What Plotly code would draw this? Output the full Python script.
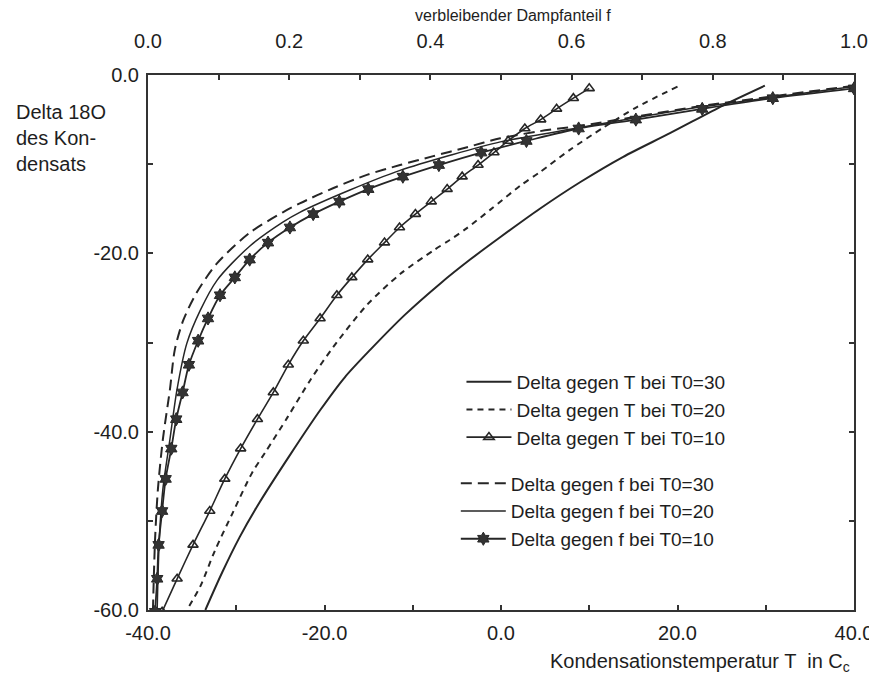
import plotly.graph_objects as go

# ---------------- data ----------------
# Delta gegen T bei T0=30  (bottom axis: T in deg C)
t30_T = [29.9, 25.2, 19.2, 13.8, 9.0, 4.4, -0.1, -3.5, -6.9, -10.9, -14.8, -17.7,
         -20.5, -23.9, -27.4, -29.6, -31.6, -33.5]
t30_d = [-1.2, -3.4, -6.5, -9.2, -12.0, -15.0, -18.2, -20.7, -23.4, -26.9, -30.8, -33.9,
         -37.6, -42.6, -48.0, -51.8, -55.8, -60.0]

# Delta gegen T bei T0=20
t20_T = [20.0, 15.4, 11.6, 7.8, 4.4, 2.2, -1.2, -3.9, -5.8, -7.7, -11.4, -15.2,
         -19.0, -21.6, -24.2, -26.7, -28.2, -30.4, -32.4, -34.1, -35.6]
t20_d = [-1.3, -3.6, -5.9, -8.4, -10.9, -12.4, -15.1, -17.2, -18.5, -19.7, -22.3, -25.8,
         -30.5, -34.2, -38.4, -42.3, -44.6, -49.1, -53.3, -57.4, -60.0]

# T0=10: same condensate delta plotted against T and against f
d10 = [-1.5, -2.6, -3.8, -5.0, -6.0, -7.4, -8.7, -10.1, -11.4, -12.8, -14.2, -15.6,
       -17.1, -18.8, -20.7, -22.7, -24.7, -27.3, -29.8, -32.5, -35.6, -38.6, -41.9,
       -45.3, -48.9, -52.7, -56.5, -60.2]
t10_T = [10.0, 8.2, 6.3, 4.5, 2.7, 0.8, -0.8, -2.6, -4.4, -6.1, -7.9, -9.7, -11.5,
         -13.2, -15.1, -16.9, -18.6, -20.5, -22.4, -24.1, -25.8, -27.6, -29.5, -31.3,
         -33.0, -34.9, -36.7, -38.4]
f10_f = [1.000, 0.885, 0.785, 0.691, 0.610, 0.536, 0.472, 0.412, 0.361, 0.312, 0.271,
         0.234, 0.201, 0.170, 0.144, 0.123, 0.102, 0.085, 0.071, 0.058, 0.049, 0.040,
         0.033, 0.025, 0.020, 0.015, 0.013, 0.010]

# Delta gegen f bei T0=30  (top axis: f)
f30_f = [1.0, 0.885, 0.782, 0.697, 0.612, 0.555, 0.499, 0.452, 0.404, 0.357, 0.310,
         0.262, 0.215, 0.191, 0.144, 0.098, 0.069, 0.050, 0.038, 0.031, 0.021, 0.014,
         0.010, 0.007]
f30_d = [-1.2, -2.4, -3.5, -4.6, -5.7, -6.3, -7.1, -8.1, -9.1, -10.1, -11.2, -12.7,
         -14.4, -15.4, -17.7, -21.1, -24.4, -27.5, -30.8, -35.3, -40.9, -46.5, -52.1,
         -60.0]

# Delta gegen f bei T0=20
f20_f = [1.0, 0.885, 0.782, 0.697, 0.612, 0.499, 0.428, 0.357, 0.286, 0.215, 0.191,
         0.144, 0.098, 0.074, 0.055, 0.041, 0.031, 0.021, 0.016, 0.013]
f20_d = [-1.3, -2.5, -3.6, -4.7, -5.9, -7.5, -9.0, -10.7, -12.9, -15.4, -16.5, -19.2,
         -23.0, -26.4, -30.1, -35.3, -40.9, -46.5, -52.1, -60.0]

# axis ticks
x_ticks = [-40, -20, 0, 20, 40]
x_tick_labels = ["-40.0", "-20.0", "0.0", "20.0", "40.0"]
f_ticks = [0.0, 0.2, 0.4, 0.6, 0.8, 1.0]
f_tick_labels = ["0.0", "0.2", "0.4", "0.6", "0.8", "1.0"]
y_ticks = [0, -20, -40, -60]
y_tick_labels = ["0.0", "-20.0", "-40.0", "-60.0"]

names = ["Delta gegen T bei T0=30", "Delta gegen T bei T0=20", "Delta gegen T bei T0=10",
         "Delta gegen f bei T0=30", "Delta gegen f bei T0=20", "Delta gegen f bei T0=10"]

# ---------------- figure ----------------
INK = "#262626"
TXT = "#1e1e1e"
FONT = "Liberation Sans, Arial, sans-serif"
SM = 0.8  # spline smoothing

fig = go.Figure()
fig.add_trace(go.Scatter(x=t30_T, y=t30_d, mode="lines", name=names[0], legend="legend",
                         line=dict(color=INK, width=2, shape="spline", smoothing=SM)))
fig.add_trace(go.Scatter(x=t20_T, y=t20_d, mode="lines", name=names[1], legend="legend",
                         line=dict(color=INK, width=2, dash="6px,5px", shape="spline",
                                   smoothing=SM)))
fig.add_trace(go.Scatter(x=t10_T, y=d10, mode="lines+markers", name=names[2], legend="legend",
                         line=dict(color=INK, width=1.6, shape="spline", smoothing=SM),
                         marker=dict(symbol="triangle-up-open", size=9, color=INK,
                                     line=dict(width=1.6, color=INK))))
fig.add_trace(go.Scatter(x=f30_f, y=f30_d, mode="lines", name=names[3], legend="legend2",
                         xaxis="x2", line=dict(color=INK, width=2, dash="11px,6px",
                                               shape="spline", smoothing=SM)))
fig.add_trace(go.Scatter(x=f20_f, y=f20_d, mode="lines", name=names[4], legend="legend2",
                         xaxis="x2", line=dict(color=INK, width=1.5, shape="spline",
                                               smoothing=SM)))
fig.add_trace(go.Scatter(x=f10_f, y=d10, mode="lines+markers", name=names[5], legend="legend2",
                         xaxis="x2", line=dict(color=INK, width=1.8, shape="spline",
                                               smoothing=SM),
                         marker=dict(symbol="hexagram", size=10, color="#333333",
                                     line=dict(width=1, color=INK))))

tickfont = dict(family=FONT, size=20, color=TXT)
axis_common = dict(showline=True, linecolor="#333333", linewidth=2, ticks="inside",
                   ticklen=5, tickwidth=1.5, tickcolor="#333333", showgrid=False,
                   zeroline=False, tickfont=tickfont, automargin=False)
minor_common = dict(ticks="inside", ticklen=5, tickwidth=1.5, tickcolor="#333333")
legend_common = dict(xanchor="left", yanchor="top", bgcolor="rgba(0,0,0,0)", itemwidth=45,
                     font=dict(family=FONT, size=19, color=TXT))

fig.update_layout(
    # the page body adds an 8 px margin, so the figure is 8 px smaller on each axis
    width=869, height=670,
    margin=dict(l=140, r=23, t=67, b=68),
    paper_bgcolor="white", plot_bgcolor="white",
    font=dict(family=FONT, size=20, color=TXT),
    xaxis=dict(range=[-40, 40], tickmode="array", tickvals=x_ticks, ticktext=x_tick_labels,
               mirror=True, ticklabelstandoff=4, minor=dict(dtick=10, **minor_common),
               **axis_common),
    xaxis2=dict(range=[0, 1], overlaying="x", side="top", tickmode="array",
                tickvals=f_ticks, ticktext=f_tick_labels, ticklabelstandoff=17,
                minor=dict(dtick=0.1, **minor_common), **axis_common),
    yaxis=dict(range=[-60, 0], tickmode="array", tickvals=y_ticks, ticktext=y_tick_labels,
               mirror="ticks", ticklabelstandoff=3, minor=dict(dtick=10, **minor_common),
               **axis_common),
    showlegend=True,
    legend=dict(x=0.444, y=0.462, **legend_common),
    legend2=dict(x=0.436, y=0.272, **legend_common),
    annotations=[
        dict(text="Delta 18O<br>des Kon-<br>densats", xref="paper", yref="paper",
             x=-0.190, y=0.955, xanchor="left", yanchor="top", align="left",
             showarrow=False, font=dict(family=FONT, size=20, color=TXT)),
        dict(text="verbleibender Dampfanteil f", xref="paper", yref="paper",
             x=0.517, y=1.112, xanchor="center", yanchor="middle", showarrow=False,
             font=dict(family=FONT, size=16, color=TXT)),
        dict(text="Kondensationstemperatur T  in C<sub>c</sub>", xref="paper", yref="paper",
             x=0.997, y=-0.099, xanchor="right", yanchor="middle", showarrow=False,
             font=dict(family=FONT, size=20, color=TXT)),
    ],
)

fig.write_html("out.html")
